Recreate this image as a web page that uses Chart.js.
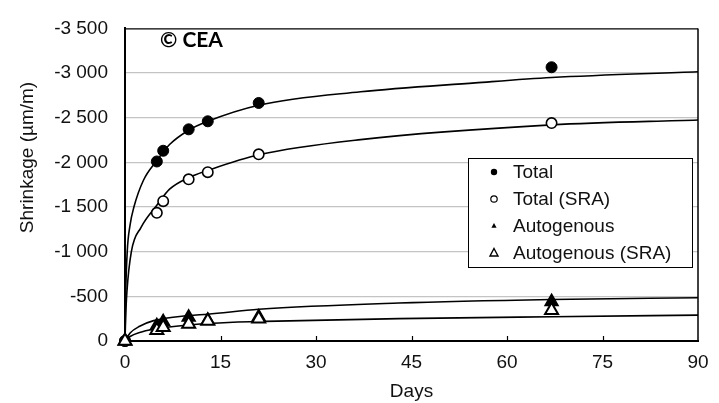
<!DOCTYPE html>
<html>
<head>
<meta charset="utf-8">
<script src="https://cdn.jsdelivr.net/npm/chart.js@4.4.0/dist/chart.umd.min.js"></script>
<style>
html, body { margin: 0; padding: 0; background: #fff; }
#wrap { width: 719px; height: 403px; }
</style>
</head>
<body>
<div id="wrap"><canvas id="grafico" width="719" height="403"></canvas></div>
<script>
// measured points
const days = [0, 5, 6, 10, 13, 21, 67];
const total = [0, -2010, -2130, -2370, -2460, -2665, -3065];
const totalSRA = [0, -1435, -1565, -1810, -1890, -2090, -2440];
const autogenous = [0, -170, -215, -265, -230, -270, -440];
const autogenousSRA = [0, -120, -155, -190, -225, -250, -345];

// fitted curves
const totalFitDays = [0, 0.1, 0.35, 0.8, 1.4, 2.9, 5, 7, 10, 13, 21, 37, 55, 67, 90];
const totalFit = [0, -500, -1000, -1300, -1500, -1800, -2020, -2200, -2360, -2460, -2640, -2790, -2890, -2950, -3015];
const sraFitDays = [0, 0.1, 0.3, 1, 2.5, 5, 7, 10, 13, 21, 37, 67, 90];
const sraFit = [0, -260, -550, -1000, -1270, -1520, -1700, -1830, -1910, -2085, -2255, -2420, -2475];
const autoFitDays = [0, 0.8, 2.3, 4.5, 10, 13, 21, 43, 67, 90];
const autoFit = [0, -90, -165, -228, -285, -300, -355, -425, -465, -485];
const autoSraFitDays = [0, 0.8, 2.3, 4.5, 10, 17, 22, 43, 67, 90];
const autoSraFit = [0, -50, -95, -131, -180, -210, -220, -250, -272, -290];

const seriesNames = ['Total', 'Total (SRA)', 'Autogenous', 'Autogenous (SRA)'];
const yTicks = [0, -500, -1000, -1500, -2000, -2500, -3000, -3500];

const txt = '#111';
const fonte = { family: '"Liberation Sans", Arial, sans-serif', size: 19 };

function pares(xs, ys) {
    return xs.map((x, i) => ({ x: x, y: ys[i] }));
}

function formatar(v) {
    const s = Math.abs(v).toString().replace(/\B(?=(\d{3})+(?!\d))/g, ' ');
    return (v < 0 ? '-' : '') + s;
}

function curva(xs, ys) {
    return {
        data: pares(xs, ys),
        showLine: true,
        borderColor: '#000',
        borderWidth: 1.6,
        pointRadius: 0,
        pointHoverRadius: 0,
        cubicInterpolationMode: 'monotone',
        fill: false,
        order: 5
    };
}

const marcadores = [
    { style: 'circle', bg: '#000', r: 5.5, bw: 1, order: 3 },
    { style: 'circle', bg: '#fff', r: 5.2, bw: 1.6, order: 2 },
    { style: 'triangle', bg: '#000', r: 7.5, bw: 1.5, order: 1 },
    { style: 'triangle', bg: '#fff', r: 7.5, bw: 2, order: 0 }
];
const valores = [total, totalSRA, autogenous, autogenousSRA];

const pontos = valores.map((vals, i) => ({
    label: seriesNames[i],
    data: pares(days, vals),
    showLine: false,
    clip: false,
    pointStyle: marcadores[i].style,
    pointRadius: marcadores[i].r,
    pointHoverRadius: marcadores[i].r,
    pointBackgroundColor: marcadores[i].bg,
    pointBorderColor: '#000',
    pointBorderWidth: marcadores[i].bw,
    order: marcadores[i].order
}));

const extras = {
    id: 'extras',
    afterDraw(chart) {
        const ctx = chart.ctx;
        const a = chart.chartArea;
        const sx = chart.scales.x;
        ctx.save();
        // top and right frame
        ctx.strokeStyle = '#000';
        ctx.lineWidth = 1.2;
        ctx.beginPath();
        ctx.moveTo(a.left, a.top + 0.5);
        ctx.lineTo(a.right, a.top + 0.5);
        ctx.stroke();
        ctx.lineWidth = 1.5;
        ctx.beginPath();
        ctx.moveTo(a.right, a.top);
        ctx.lineTo(a.right, a.bottom);
        ctx.stroke();
        // inward x ticks
        ctx.lineWidth = 1.2;
        for (let v = 15; v < 90; v += 15) {
            const px = Math.round(sx.getPixelForValue(v)) + 0.5;
            ctx.beginPath();
            ctx.moveTo(px, a.bottom);
            ctx.lineTo(px, a.bottom - 5);
            ctx.stroke();
        }
        // y title
        ctx.fillStyle = txt;
        ctx.font = '19px "Liberation Sans", Arial, sans-serif';
        ctx.textAlign = 'center';
        ctx.textBaseline = 'middle';
        ctx.save();
        ctx.translate(27.5, 157.5);
        ctx.rotate(-Math.PI / 2);
        ctx.fillText('Shrinkage (\u00b5m/m)', 0, 0);
        ctx.restore();
        // copyright
        ctx.font = 'bold 21px Lato, "Open Sans", sans-serif';
        ctx.textAlign = 'left';
        ctx.fillStyle = '#000';
        ctx.fillText('\u00a9 CEA', 160, 40);
        // legend
        const lx = 468, ly = 158, lw = 224, lh = 109;
        ctx.fillStyle = '#fff';
        ctx.fillRect(lx, ly, lw, lh);
        ctx.strokeStyle = '#000';
        ctx.lineWidth = 1;
        ctx.strokeRect(lx + 0.5, ly + 0.5, lw, lh);
        const ys = [172, 199, 226, 253];
        const mx = 494;
        ctx.font = '19px "Liberation Sans", Arial, sans-serif';
        for (let i = 0; i < seriesNames.length; i++) {
            const y = ys[i];
            ctx.beginPath();
            if (i === 0) {
                ctx.arc(mx, y, 3.2, 0, Math.PI * 2);
                ctx.fillStyle = '#000';
                ctx.fill();
            } else if (i === 1) {
                ctx.arc(mx, y, 3.2, 0, Math.PI * 2);
                ctx.fillStyle = '#fff';
                ctx.fill();
                ctx.lineWidth = 1.2;
                ctx.stroke();
            } else if (i === 2) {
                ctx.moveTo(mx, y - 3);
                ctx.lineTo(mx + 2.6, y + 1.8);
                ctx.lineTo(mx - 2.6, y + 1.8);
                ctx.closePath();
                ctx.fillStyle = '#000';
                ctx.fill();
            } else {
                ctx.moveTo(mx, y - 4.5);
                ctx.lineTo(mx + 4, y + 3);
                ctx.lineTo(mx - 4, y + 3);
                ctx.closePath();
                ctx.lineWidth = 1.4;
                ctx.stroke();
            }
            ctx.fillStyle = txt;
            ctx.textAlign = 'left';
            ctx.textBaseline = 'middle';
            ctx.fillText(seriesNames[i], 513, y + 1);
        }
        ctx.restore();
    }
};

new Chart(document.getElementById('grafico'), {
    type: 'scatter',
    data: {
        datasets: pontos.concat([
            curva(totalFitDays, totalFit),
            curva(sraFitDays, sraFit),
            curva(autoFitDays, autoFit),
            curva(autoSraFitDays, autoSraFit)
        ])
    },
    options: {
        responsive: false,
        animation: false,
        devicePixelRatio: 1,
        layout: { padding: { left: 0, right: 21, top: 15, bottom: 0 } },
        plugins: {
            legend: { display: false },
            tooltip: { enabled: false }
        },
        scales: {
            x: {
                type: 'linear',
                min: 0,
                max: 90,
                ticks: { stepSize: 15, padding: 10, color: txt, font: fonte, maxRotation: 0 },
                grid: { display: false, drawTicks: false },
                border: { display: true, color: '#000', width: 2 },
                title: { display: true, text: 'Days', color: txt, font: fonte, padding: { top: 2, bottom: 0 } },
                afterFit(s) { s.height = 62; }
            },
            y: {
                type: 'linear',
                min: -3500,
                max: 0,
                reverse: true,
                afterBuildTicks(s) { s.ticks = yTicks.map(v => ({ value: v })); },
                ticks: { padding: 17, color: txt, font: fonte, callback: formatar },
                grid: {
                    drawTicks: false,
                    color: c => (c.tick && (c.tick.value === -3500 || c.tick.value === 0)) ? 'rgba(0,0,0,0)' : '#c4c4c4',
                    lineWidth: 1.2
                },
                border: { display: true, color: '#000', width: 2 },
                afterFit(s) { s.width = 125; }
            }
        }
    },
    plugins: [extras]
});
</script>
</body>
</html>
